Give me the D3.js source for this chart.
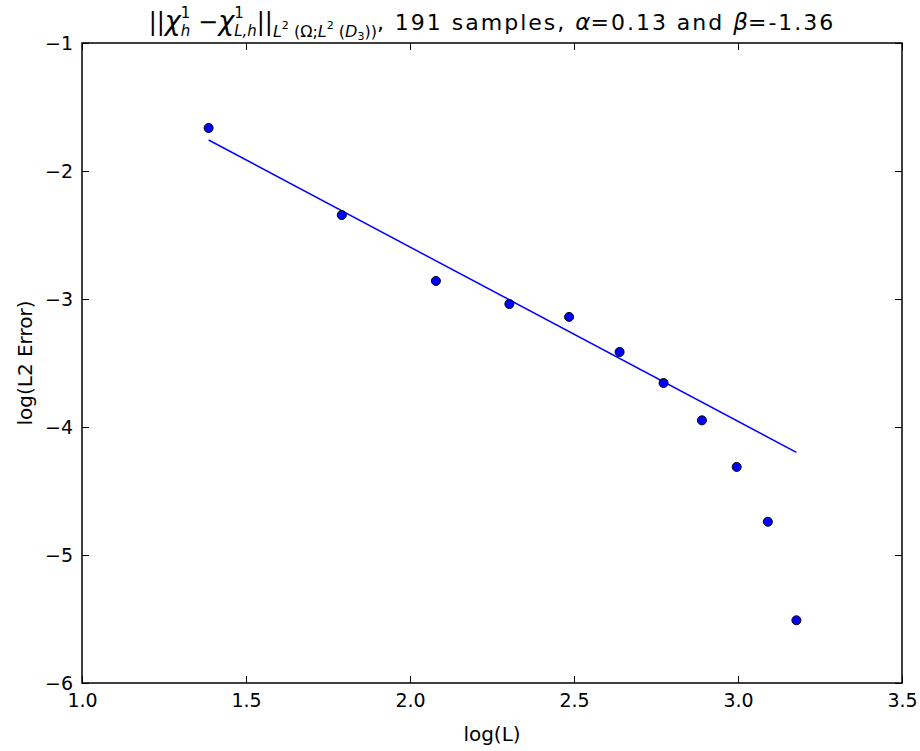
<!DOCTYPE html>
<html>
<head>
<meta charset="utf-8">
<script src="https://d3js.org/d3.v7.min.js"></script>
<style>
  body { margin: 0; background: #fff; }
  svg { display: block; }
  text { font-family: "DejaVu Sans", sans-serif; fill: #000; }
</style>
</head>
<body>
<script>
// data
const logL = [1.386, 1.792, 2.079, 2.303, 2.485, 2.639, 2.773, 2.890, 2.996, 3.091, 3.178];
const logErr = [-1.664, -2.344, -2.859, -3.039, -3.14, -3.414, -3.656, -3.948, -4.312, -4.74, -5.51];
// fitted line, endpoints
const fitX = [1.386, 3.178];
const fitY = [-1.758, -4.198];

const xTicks = [1.0, 1.5, 2.0, 2.5, 3.0, 3.5];
const xTickLabels = ["1.0", "1.5", "2.0", "2.5", "3.0", "3.5"];
const yTicks = [-1, -2, -3, -4, -5, -6];
const yTickLabels = ["\u22121", "\u22122", "\u22123", "\u22124", "\u22125", "\u22126"];

const width = 920;
const height = 751;
const margin = {left: 82, right: 18, top: 43, bottom: 68};

const svg = d3.select("body").append("svg")
    .attr("width", width)
    .attr("height", height);

const x = d3.scaleLinear().domain([1.0, 3.5]).range([margin.left, width - margin.right]);
const y = d3.scaleLinear().domain([-6, -1]).range([height - margin.bottom, margin.top]);

const tickLen = 7;
const fontSize = 19;

// axes, ticks pointing inward on all four sides
const axBottom = svg.append("g").attr("transform", "translate(0," + y.range()[0] + ")")
    .call(d3.axisBottom(x).tickValues(xTicks).tickFormat((d, i) => xTickLabels[i]).tickSizeInner(-tickLen).tickSizeOuter(0).tickPadding(11));
const axTop = svg.append("g").attr("transform", "translate(0," + y.range()[1] + ")")
    .call(d3.axisTop(x).tickValues(xTicks).tickFormat("").tickSizeInner(-tickLen).tickSizeOuter(0));
const axLeft = svg.append("g").attr("transform", "translate(" + x.range()[0] + ",0)")
    .call(d3.axisLeft(y).tickValues(yTicks).tickFormat((d, i) => yTickLabels[i]).tickSizeInner(-tickLen).tickSizeOuter(0).tickPadding(9));
const axRight = svg.append("g").attr("transform", "translate(" + x.range()[1] + ",0)")
    .call(d3.axisRight(y).tickValues(yTicks).tickFormat("").tickSizeInner(-tickLen).tickSizeOuter(0));

[axBottom, axTop, axLeft, axRight].forEach(g => {
    g.select(".domain").remove();
    g.selectAll(".tick line").attr("stroke", "#000").attr("stroke-width", 1);
    g.selectAll(".tick text").attr("font-size", fontSize).attr("font-family", "DejaVu Sans").attr("fill", "#000");
});

// frame
svg.append("rect")
    .attr("x", x.range()[0])
    .attr("y", y.range()[1])
    .attr("width", x.range()[1] - x.range()[0])
    .attr("height", y.range()[0] - y.range()[1])
    .attr("fill", "none")
    .attr("stroke", "#000")
    .attr("stroke-width", 1.5);

// fit line
svg.append("line")
    .attr("x1", x(fitX[0])).attr("y1", y(fitY[0]))
    .attr("x2", x(fitX[1])).attr("y2", y(fitY[1]))
    .attr("stroke", "#0000ff")
    .attr("stroke-width", 1.5);

// points
svg.selectAll("circle.pt")
    .data(logL.map((d, i) => [d, logErr[i]]))
    .enter()
    .append("circle")
    .attr("class", "pt")
    .attr("cx", d => x(d[0]))
    .attr("cy", d => y(d[1]))
    .attr("r", 4.5)
    .attr("fill", "#0000ff")
    .attr("stroke", "#000")
    .attr("stroke-width", 1);

// axis labels
svg.append("text")
    .attr("x", (x.range()[0] + x.range()[1]) / 2)
    .attr("y", 741)
    .attr("text-anchor", "middle")
    .attr("font-size", 20)
    .text("log(L)");

svg.append("text")
    .attr("transform", "translate(32," + ((y.range()[0] + y.range()[1]) / 2) + ") rotate(-90)")
    .attr("text-anchor", "middle")
    .attr("font-size", 20)
    .text("log(L2 Error)");

// title, laid out piece by piece (mathtext-like)
const serif = "DejaVu Serif";
const sans = "DejaVu Sans";
const titlePieces = [
    {t: "||", f: serif, s: 24, o: 0},
    {t: "\u03c7", f: serif, s: 27, o: 0, i: true},
    {t: "h", f: serif, s: 15, o: 6, i: true, stack: true},
    {t: "1", f: serif, s: 15, o: -12},
    {t: " \u2212", f: serif, s: 24, o: 0},
    {t: "\u03c7", f: serif, s: 27, o: 0, i: true},
    {t: "L,h", f: serif, s: 15, o: 6, i: true, stack: true},
    {t: "1", f: serif, s: 15, o: -12},
    {t: "||", f: serif, s: 24, o: 0},
    {t: "L", f: serif, s: 16, o: 7, i: true},
    {t: "2", f: serif, s: 11, o: -1},
    {t: " (\u03a9;", f: serif, s: 16, o: 7},
    {t: "L", f: serif, s: 16, o: 7, i: true},
    {t: "2", f: serif, s: 11, o: -1},
    {t: " (", f: serif, s: 16, o: 7},
    {t: "D", f: serif, s: 16, o: 7, i: true},
    {t: "3", f: serif, s: 11, o: 10},
    {t: "))", f: serif, s: 16, o: 7},
    {t: ", 191 samples, ", f: sans, s: 22, o: 0, ls: 2},
    {t: "\u03b1", f: serif, s: 23, o: 0, i: true},
    {t: "=0.13 and ", f: sans, s: 22, o: 0, ls: 2},
    {t: "\u03b2", f: serif, s: 23, o: 0, i: true},
    {t: "=-1.36", f: sans, s: 22, o: 0, ls: 2}
];

const title = svg.append("g");
let cx = 0;
let stackW = 0;
titlePieces.forEach(p => {
    const t = title.append("text")
        .attr("x", cx)
        .attr("y", p.o)
        .attr("font-family", p.f)
        .attr("font-size", p.s)
        .attr("font-style", p.i ? "italic" : "normal")
        .attr("letter-spacing", p.ls || 0)
        .style("white-space", "pre")
        .text(p.t);
    const w = t.node().getComputedTextLength();
    if (p.stack) {
        stackW = w;
    } else {
        cx += Math.max(w, stackW);
        stackW = 0;
    }
});
const mid = (x.range()[0] + x.range()[1]) / 2;
title.attr("transform", "translate(" + (mid - cx / 2) + ",30)");
</script>
</body>
</html>
